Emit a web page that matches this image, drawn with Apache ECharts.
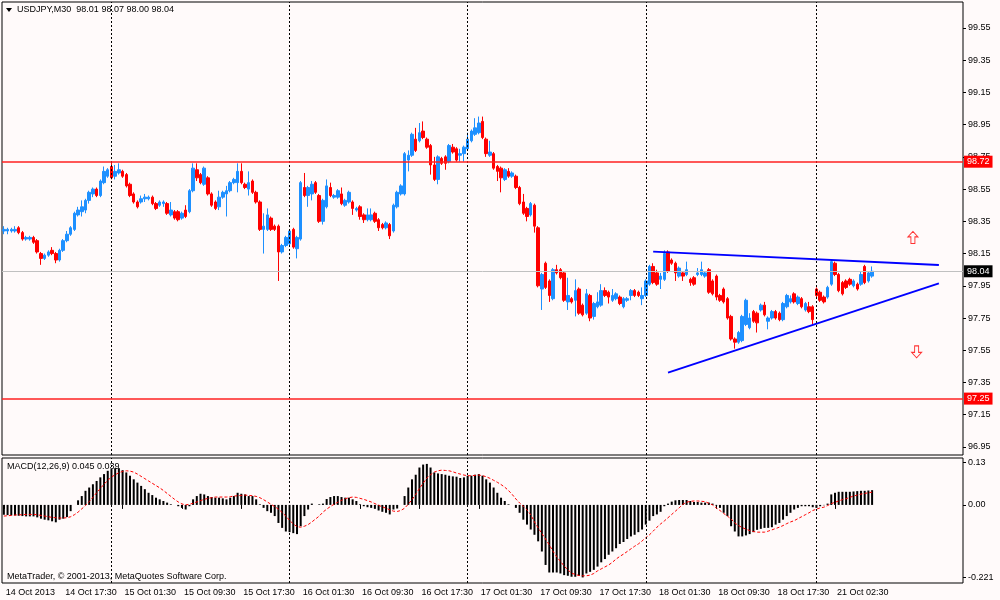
<!DOCTYPE html>
<html>
<head>
<meta charset="utf-8">
<title>USDJPY,M30</title>
<script src="https://cdn.jsdelivr.net/npm/echarts@6.0.0/dist/echarts.min.js"></script>
<style>
html, body { margin: 0; padding: 0; background: #fffafa; }
#chart { width: 1000px; height: 600px; }
</style>
</head>
<body>
<div id="chart"></div>
<script>
// trading sessions: day, first half-hour slot, slot after the last bar
var sessions = [['14 Oct', 19, 48], ['15 Oct', 0, 48], ['16 Oct', 0, 48], ['17 Oct', 0, 48], ['18 Oct', 0, 46], ['21 Oct', 0, 16]];
var padBars = 24;
var firstLabel = '14 Oct 2013';
var symbolName = 'USDJPY,M30';

var priceTicks = [96.95, 97.15, 97.35, 97.55, 97.75, 97.95, 98.15, 98.35, 98.55, 98.75, 98.95, 99.15, 99.35, 99.55];
var macdTicks = [0.13, 0, -0.221];
var macdTickText = ['0.13', '0.00', '-0.221'];

var redLevels = [98.72, 97.25];
var bidLevel = 98.04;
var trendUpper = [[175, 98.162], [252, 98.079]];
var trendLower = [[179, 97.411], [252, 97.965]];
var arrowUp = [[245, 98.25]];
var arrowDown = [[246, 97.54]];

// [open, close, low, high]
var candles = [
[98.29,98.30,98.27,98.32],[98.29,98.30,98.27,98.31],[98.29,98.30,98.28,98.31],[98.29,98.30,98.28,98.32],[98.31,98.28,98.27,98.32],
[98.28,98.24,98.23,98.29],[98.24,98.25,98.23,98.26],[98.24,98.25,98.23,98.26],[98.25,98.22,98.21,98.26],[98.23,98.16,98.15,98.24],
[98.15,98.12,98.08,98.16],[98.12,98.14,98.11,98.15],[98.14,98.16,98.13,98.17],[98.17,98.15,98.14,98.19],[98.15,98.11,98.09,98.16],
[98.11,98.17,98.10,98.18],[98.17,98.23,98.16,98.24],[98.23,98.27,98.22,98.29],[98.27,98.31,98.26,98.32],[98.30,98.40,98.29,98.41],
[98.39,98.42,98.38,98.44],[98.41,98.44,98.38,98.48],[98.42,98.48,98.40,98.49],[98.48,98.53,98.46,98.54],[98.52,98.55,98.50,98.56],
[98.55,98.51,98.50,98.56],[98.51,98.60,98.50,98.61],[98.59,98.66,98.58,98.69],[98.63,98.67,98.62,98.68],[98.69,98.62,98.61,98.72],
[98.63,98.66,98.61,98.70],[98.65,98.67,98.64,98.71],[98.66,98.63,98.62,98.67],[98.64,98.57,98.56,98.65],[98.58,98.51,98.50,98.59],
[98.52,98.47,98.46,98.53],[98.47,98.44,98.43,98.48],[98.47,98.49,98.46,98.51],[98.49,98.50,98.47,98.52],[98.49,98.50,98.48,98.51],
[98.50,98.46,98.45,98.51],[98.46,98.43,98.42,98.47],[98.45,98.47,98.44,98.48],[98.46,98.47,98.44,98.48],[98.46,98.40,98.39,98.47],
[98.39,98.42,98.38,98.47],[98.41,98.37,98.36,98.42],[98.41,98.36,98.35,98.42],[98.37,98.40,98.36,98.41],[98.42,98.38,98.37,98.45],
[98.41,98.54,98.40,98.55],[98.54,98.68,98.53,98.71],[98.67,98.62,98.60,98.71],[98.64,98.59,98.58,98.65],[98.58,98.68,98.57,98.69],
[98.62,98.52,98.51,98.63],[98.52,98.45,98.44,98.53],[98.47,98.43,98.42,98.48],[98.44,98.50,98.42,98.54],[98.50,98.53,98.49,98.54],
[98.52,98.54,98.38,98.57],[98.54,98.59,98.53,98.60],[98.59,98.61,98.58,98.62],[98.59,98.66,98.53,98.71],[98.66,98.59,98.58,98.71],
[98.58,98.56,98.55,98.59],[98.55,98.59,98.51,98.66],[98.60,98.53,98.52,98.61],[98.53,98.47,98.46,98.54],[98.47,98.30,98.29,98.48],
[98.30,98.32,98.15,98.40],[98.30,98.39,98.29,98.43],[98.37,98.30,98.29,98.38],[98.32,98.30,98.29,98.33],[98.32,98.16,97.98,98.33],
[98.16,98.20,98.15,98.21],[98.20,98.25,98.19,98.26],[98.21,98.29,98.20,98.30],[98.30,98.19,98.18,98.31],[98.18,98.25,98.12,98.26],
[98.24,98.59,98.23,98.60],[98.56,98.51,98.50,98.65],[98.51,98.56,98.44,98.57],[98.52,98.58,98.48,98.60],[98.59,98.53,98.52,98.60],
[98.51,98.35,98.34,98.52],[98.35,98.48,98.33,98.49],[98.44,98.57,98.43,98.61],[98.56,98.51,98.50,98.59],[98.50,98.51,98.49,98.52],
[98.50,98.54,98.49,98.55],[98.52,98.46,98.45,98.56],[98.45,98.48,98.44,98.49],[98.47,98.53,98.46,98.54],[98.47,98.43,98.39,98.48],
[98.42,98.43,98.41,98.44],[98.44,98.38,98.36,98.45],[98.39,98.36,98.34,98.40],[98.36,98.39,98.35,98.43],[98.36,98.39,98.35,98.43],
[98.40,98.35,98.34,98.41],[98.36,98.31,98.29,98.37],[98.33,98.31,98.30,98.34],[98.31,98.34,98.30,98.35],[98.33,98.26,98.24,98.34],
[98.29,98.45,98.28,98.46],[98.44,98.53,98.43,98.54],[98.52,98.57,98.51,98.58],[98.52,98.77,98.51,98.78],[98.73,98.76,98.66,98.79],
[98.76,98.89,98.75,98.90],[98.86,98.79,98.78,98.93],[98.85,98.90,98.84,98.96],[98.91,98.87,98.86,98.97],[98.86,98.81,98.80,98.87],
[98.82,98.70,98.64,98.83],[98.70,98.61,98.60,98.75],[98.61,98.75,98.58,98.76],[98.74,98.71,98.70,98.75],[98.75,98.71,98.67,98.76],
[98.72,98.82,98.71,98.83],[98.81,98.78,98.77,98.83],[98.80,98.73,98.72,98.81],[98.76,98.77,98.72,98.80],[98.77,98.81,98.72,98.82],
[98.80,98.86,98.79,98.90],[98.85,98.91,98.84,98.92],[98.89,98.93,98.88,98.99],[98.90,98.96,98.89,99.00],[98.97,98.87,98.86,99.00],
[98.86,98.77,98.75,98.87],[98.76,98.78,98.75,98.85],[98.77,98.68,98.67,98.78],[98.69,98.66,98.60,98.70],[98.68,98.62,98.53,98.69],
[98.61,98.67,98.60,98.68],[98.66,98.63,98.62,98.68],[98.63,98.65,98.62,98.66],[98.63,98.56,98.55,98.64],[98.56,98.46,98.45,98.57],
[98.47,98.40,98.39,98.52],[98.43,98.38,98.35,98.44],[98.39,98.46,98.38,98.47],[98.45,98.32,98.28,98.46],[98.31,97.95,97.94,98.32],
[97.93,98.02,97.80,98.03],[98.09,97.94,97.93,98.10],[97.98,97.89,97.85,97.99],[97.87,98.05,97.86,98.06],[98.05,98.03,98.02,98.08],
[98.05,98.00,97.99,98.06],[98.03,97.86,97.85,98.04],[97.85,97.89,97.80,98.00],[97.87,97.85,97.84,97.88],[97.86,97.92,97.76,97.99],
[97.93,97.78,97.77,97.94],[97.83,97.77,97.76,97.84],[97.78,97.90,97.77,97.93],[97.89,97.75,97.73,97.90],[97.76,97.84,97.74,97.85],
[97.82,97.85,97.81,97.91],[97.83,97.92,97.82,97.96],[97.92,97.89,97.88,97.94],[97.91,97.88,97.84,97.92],[97.86,97.89,97.85,97.93],
[97.87,97.90,97.86,97.91],[97.88,97.84,97.83,97.89],[97.82,97.87,97.81,97.88],[97.86,97.87,97.85,97.88],[97.89,97.92,97.86,97.93],
[97.92,97.89,97.88,97.93],[97.91,97.89,97.88,97.92],[97.87,97.89,97.83,97.94],[97.89,97.98,97.88,97.99],[97.96,98.07,97.95,98.08],
[98.07,97.97,97.96,98.09],[98.03,97.96,97.95,98.05],[97.99,98.01,97.93,98.03],[97.99,98.15,97.98,98.17],[98.16,98.04,98.03,98.17],
[98.11,98.09,98.08,98.12],[98.09,98.03,97.98,98.10],[98.01,98.06,98.00,98.07],[98.03,98.01,97.98,98.04],[98.02,98.05,98.01,98.10],
[97.99,97.97,97.95,98.00],[98.00,97.96,97.95,98.01],[98.02,98.03,98.01,98.06],[98.02,98.05,98.01,98.10],[98.01,98.03,98.00,98.04],
[98.05,97.91,97.90,98.06],[97.98,97.90,97.89,97.99],[98.01,97.88,97.86,98.02],[97.89,97.86,97.85,97.90],[97.93,97.85,97.84,97.94],
[97.87,97.75,97.74,97.88],[97.76,97.62,97.61,97.77],[97.62,97.60,97.56,97.63],[97.60,97.66,97.59,97.67],[97.61,97.76,97.60,97.77],
[97.71,97.86,97.70,97.87],[97.69,97.75,97.68,97.78],[97.79,97.73,97.72,97.80],[97.78,97.72,97.66,97.79],[97.80,97.83,97.79,97.84],
[97.83,97.77,97.76,97.85],[97.73,97.75,97.68,97.76],[97.75,97.79,97.74,97.80],[97.79,97.75,97.74,97.80],[97.78,97.74,97.73,97.79],
[97.74,97.84,97.73,97.85],[97.82,97.89,97.81,97.90],[97.85,97.87,97.84,97.89],[97.90,97.85,97.84,97.91],[97.84,97.88,97.83,97.89],
[97.87,97.82,97.81,97.88],[97.80,97.84,97.79,97.85],[97.82,97.79,97.78,97.85],[97.82,97.74,97.71,97.83],[97.93,97.89,97.88,97.94],
[97.91,97.86,97.85,97.92],[97.88,97.85,97.84,97.89],[97.88,97.94,97.87,97.95],[97.96,98.10,97.95,98.11],[98.09,98.02,98.01,98.10],
[98.02,97.92,97.91,98.03],[97.97,97.90,97.89,97.98],[97.98,97.94,97.93,97.99],[97.99,97.96,97.95,98.00],[97.95,97.98,97.94,97.99],
[97.96,97.93,97.92,97.97],[97.96,98.02,97.95,98.04],[98.07,97.97,97.96,98.08],[97.98,98.03,97.97,98.04],[98.01,98.04,98.00,98.07]
];

var macdMain = [
-0.030,-0.031,-0.032,-0.032,-0.033,-0.034,-0.035,-0.035,-0.035,-0.038,
-0.042,-0.045,-0.047,-0.050,-0.053,-0.045,-0.042,-0.037,-0.019,0.000,
0.014,0.027,0.043,0.053,0.063,0.073,0.084,0.094,0.104,0.109,
0.112,0.112,0.106,0.099,0.089,0.078,0.068,0.058,0.048,0.037,
0.030,0.022,0.017,0.012,0.007,0.002,0.000,-0.004,-0.009,-0.014,
-0.004,0.017,0.027,0.034,0.032,0.027,0.024,0.022,0.022,0.020,
0.017,0.022,0.027,0.037,0.034,0.032,0.027,0.027,0.017,0.002,
-0.009,-0.019,-0.024,-0.034,-0.055,-0.070,-0.081,-0.083,-0.086,-0.089,
-0.065,-0.034,-0.014,0.004,0.000,0.002,0.004,0.018,0.024,0.027,
0.027,0.024,0.022,0.022,0.017,0.012,0.002,-0.004,-0.007,-0.009,
-0.012,-0.017,-0.021,-0.024,-0.029,-0.014,-0.011,0.000,0.027,0.053,
0.078,0.092,0.114,0.123,0.125,0.114,0.099,0.096,0.094,0.092,
0.089,0.087,0.086,0.082,0.084,0.089,0.089,0.092,0.094,0.089,
0.078,0.068,0.053,0.037,0.022,0.012,0.002,0.000,-0.009,-0.024,
-0.045,-0.060,-0.075,-0.091,-0.111,-0.142,-0.183,-0.206,-0.206,-0.206,
-0.209,-0.214,-0.216,-0.219,-0.219,-0.216,-0.221,-0.209,-0.204,-0.198,
-0.188,-0.175,-0.165,-0.152,-0.142,-0.132,-0.119,-0.113,-0.104,-0.096,
-0.091,-0.083,-0.075,-0.060,-0.048,-0.034,-0.029,-0.021,-0.004,0.004,
0.010,0.014,0.015,0.015,0.015,0.012,0.009,0.009,0.007,0.007,
0.007,0.004,-0.002,-0.009,-0.024,-0.034,-0.065,-0.081,-0.096,-0.096,
-0.093,-0.089,-0.083,-0.076,-0.073,-0.070,-0.070,-0.068,-0.060,-0.055,
-0.045,-0.034,-0.024,-0.014,-0.009,-0.004,-0.004,-0.004,-0.007,-0.009,
-0.004,-0.001,0.004,0.032,0.037,0.040,0.040,0.040,0.040,0.041,
0.042,0.043,0.043,0.044,0.045
];

var macdSignal = [
-0.034,-0.033,-0.032,-0.031,-0.030,-0.030,-0.029,-0.029,-0.029,-0.030,
-0.032,-0.034,-0.036,-0.038,-0.039,-0.040,-0.040,-0.039,-0.036,-0.030,
-0.022,-0.012,-0.002,0.010,0.023,0.037,0.050,0.063,0.075,0.085,
0.092,0.098,0.102,0.104,0.103,0.100,0.094,0.087,0.080,0.073,
0.066,0.059,0.052,0.044,0.035,0.026,0.017,0.009,0.003,0.000,
0.002,0.005,0.009,0.013,0.017,0.020,0.022,0.024,0.024,0.024,
0.024,0.025,0.027,0.028,0.029,0.030,0.029,0.028,0.026,0.022,
0.016,0.009,0.002,-0.005,-0.013,-0.023,-0.034,-0.047,-0.058,-0.066,
-0.068,-0.065,-0.060,-0.052,-0.043,-0.034,-0.022,-0.013,-0.005,0.002,
0.008,0.014,0.019,0.022,0.024,0.023,0.020,0.017,0.013,0.009,
0.004,-0.001,-0.006,-0.010,-0.015,-0.019,-0.020,-0.017,-0.010,0.002,
0.016,0.032,0.050,0.066,0.082,0.092,0.100,0.104,0.106,0.105,
0.104,0.101,0.097,0.094,0.091,0.089,0.089,0.090,0.091,0.089,
0.086,0.081,0.075,0.069,0.062,0.054,0.044,0.032,0.018,0.006,
-0.004,-0.015,-0.030,-0.052,-0.070,-0.087,-0.104,-0.122,-0.141,-0.158,
-0.172,-0.186,-0.198,-0.208,-0.212,-0.215,-0.216,-0.216,-0.214,-0.209,
-0.201,-0.195,-0.189,-0.183,-0.175,-0.165,-0.157,-0.150,-0.142,-0.134,
-0.126,-0.119,-0.110,-0.100,-0.091,-0.080,-0.068,-0.058,-0.049,-0.039,
-0.029,-0.019,-0.009,0.002,0.008,0.011,0.012,0.012,0.011,0.010,
0.005,0.000,-0.009,-0.017,-0.026,-0.034,-0.043,-0.055,-0.063,-0.069,
-0.074,-0.078,-0.081,-0.083,-0.083,-0.083,-0.080,-0.076,-0.072,-0.068,
-0.063,-0.057,-0.052,-0.048,-0.042,-0.036,-0.030,-0.024,-0.017,-0.013,
-0.009,-0.007,-0.002,0.004,0.008,0.012,0.016,0.019,0.023,0.027,
0.030,0.033,0.035,0.037,0.039
];

var times = [];
sessions.forEach(function (s) {
    for (var k = s[1]; k < s[2]; k++) {
        var h = Math.floor(k / 2);
        times.push(s[0] + ' ' + (h < 10 ? '0' + h : h) + ':' + (k % 2 ? '30' : '00'));
    }
});
var cats = times.slice();
for (var p = 0; p < padBars; p++) cats.push('pad' + p);

var dayStarts = times.filter(function (t, i) { return i > 0 && / 00:00$/.test(t); });
var sepLines = dayStarts.map(function (t) {
    return {xAxis: t, lineStyle: {color: '#000', type: [2, 2], width: 1}, label: {show: false}};
});

var font = 'Liberation Sans';
function boxLabel(bg) {
    return {show: true, position: 'end', distance: 1, color: '#fff', backgroundColor: bg,
        padding: [2, 3, 1, 3], fontSize: 9, fontFamily: font,
        formatter: function (p) { return p.value.toFixed(2); }};
}
var levelLines = redLevels.map(function (v) {
    return {yAxis: v, lineStyle: {color: '#ff2020', type: 'solid', width: 1.5}, label: boxLabel('#ff0000')};
});
levelLines.push({yAxis: bidLevel, lineStyle: {color: '#c0c0c0', type: 'solid', width: 1}, label: boxLabel('#000')});

var last = candles[candles.length - 1];
var header = symbolName + '  ' + [last[0], last[3], last[2], last[1]].map(function (v) { return v.toFixed(2); }).join(' ');
var macdText = 'MACD(12,26,9) ' + macdMain[macdMain.length - 1].toFixed(3) + ' ' + macdSignal[macdSignal.length - 1].toFixed(3);

function labelShown(i) { return i < times.length && i % 16 === 0; }

var chart = echarts.init(document.getElementById('chart'));
var option = {
    animation: false,
    backgroundColor: '#fffafa',
    textStyle: {fontFamily: font, fontSize: 9, color: '#000'},
    grid: [
        {left: 2, right: 37, top: 2, bottom: 145, show: true, borderColor: '#000', borderWidth: 1, backgroundColor: 'transparent'},
        {left: 2, right: 37, top: 458, bottom: 17, show: true, borderColor: '#000', borderWidth: 1, backgroundColor: 'transparent'}
    ],
    xAxis: [
        {gridIndex: 0, type: 'category', data: cats, boundaryGap: true,
            axisLine: {show: false}, axisTick: {show: false}, axisLabel: {show: false}, splitLine: {show: false}},
        {gridIndex: 1, type: 'category', data: cats, boundaryGap: true,
            axisLine: {show: false},
            axisTick: {show: true, interval: labelShown, alignWithLabel: true, length: 4, lineStyle: {color: '#000'}},
            axisLabel: {interval: labelShown, align: 'left', margin: 5, padding: [0, 0, 0, 2],
                fontSize: 9, fontFamily: font, color: '#000',
                formatter: function (v, i) { return i === 0 ? firstLabel : v; }},
            splitLine: {show: false}}
    ],
    yAxis: [
        {gridIndex: 0, type: 'value', position: 'right', min: 96.90, max: 99.711,
            axisLine: {show: false},
            axisTick: {show: true, customValues: priceTicks, length: 3, lineStyle: {color: '#000'}},
            axisLabel: {customValues: priceTicks, margin: 5, fontSize: 9, fontFamily: font, color: '#000',
                formatter: function (v) { return v.toFixed(2); }},
            splitLine: {show: false}},
        {gridIndex: 1, type: 'value', position: 'right', min: -0.238, max: 0.143,
            axisLine: {show: false},
            axisTick: {show: true, customValues: macdTicks, length: 3, lineStyle: {color: '#000'}},
            axisLabel: {customValues: macdTicks, margin: 5, fontSize: 9, fontFamily: font, color: '#000',
                formatter: function (v) {
                    for (var i = 0; i < macdTicks.length; i++) {
                        if (Math.abs(macdTicks[i] - v) < 1e-6) return macdTickText[i];
                    }
                    return '';
                }},
            splitLine: {show: false}}
    ],
    graphic: [
        {type: 'polygon', shape: {points: [[6, 8], [12, 8], [9, 12]]}, style: {fill: '#000'}},
        {type: 'text', left: 17, top: 5, style: {text: header, font: '9px "Liberation Sans"', fill: '#000'}},
        {type: 'text', left: 7, top: 462, style: {text: macdText, font: '9px "Liberation Sans"', fill: '#000'}},
        {type: 'text', left: 7, top: 572, style: {text: 'MetaTrader, \u00a9 2001-2013, MetaQuotes Software Corp.', font: '9px "Liberation Sans"', fill: '#000'}}
    ],
    series: [
        {
            name: 'USDJPY', type: 'candlestick', xAxisIndex: 0, yAxisIndex: 0,
            data: candles, barWidth: 3,
            itemStyle: {color: '#1e90ff', color0: '#ff0000', borderColor: '#1e90ff', borderColor0: '#ff0000', borderWidth: 1},
            markLine: {symbol: ['none', 'none'], silent: true, animation: false, data: sepLines.concat(levelLines)}
        },
        {
            name: 'upper', type: 'line', xAxisIndex: 0, yAxisIndex: 0, data: trendUpper,
            symbol: 'none', lineStyle: {color: '#0000ff', width: 2}, z: 3
        },
        {
            name: 'lower', type: 'line', xAxisIndex: 0, yAxisIndex: 0, data: trendLower,
            symbol: 'none', lineStyle: {color: '#0000ff', width: 2}, z: 3
        },
        {
            name: 'buy', type: 'scatter', xAxisIndex: 0, yAxisIndex: 0, data: arrowUp,
            symbol: 'path://M5,0L10,5L7,5L7,11L3,11L3,5L0,5Z', symbolSize: [10, 12],
            itemStyle: {color: '#fffafa', borderColor: '#ff0000', borderWidth: 1}
        },
        {
            name: 'sell', type: 'scatter', xAxisIndex: 0, yAxisIndex: 0, data: arrowDown,
            symbol: 'path://M3,0L7,0L7,6L10,6L5,11L0,6L3,6Z', symbolSize: [10, 12],
            itemStyle: {color: '#fffafa', borderColor: '#ff0000', borderWidth: 1}
        },
        {
            name: 'MACD', type: 'bar', xAxisIndex: 1, yAxisIndex: 1, data: macdMain, barWidth: 2,
            itemStyle: {color: '#000'},
            markLine: {symbol: ['none', 'none'], silent: true, animation: false, data: sepLines}
        },
        {
            name: 'Signal', type: 'line', xAxisIndex: 1, yAxisIndex: 1, data: macdSignal,
            symbol: 'none', lineStyle: {color: '#ff0000', width: 1, type: [3, 2]}
        }
    ]
};
chart.setOption(option);
</script>
</body>
</html>
